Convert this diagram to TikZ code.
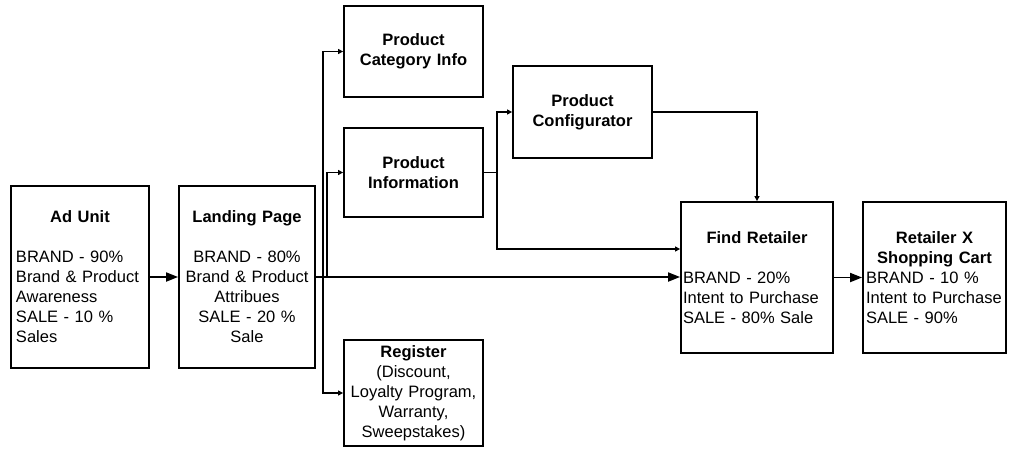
\documentclass[tikz,border=0pt]{standalone}
\usepackage{fontspec}
\setmainfont{Liberation Sans}
\usetikzlibrary{arrows.meta}
\newcommand{\ctitle}[1]{\hspace*{\fill}\textbf{#1}\hspace*{\fill}\mbox{}}
\begin{document}
\begin{tikzpicture}[x=1pt,y=-1pt,
  box/.style={draw, line width=1.8pt, inner sep=0pt, font=\fontsize{16.5}{20}\selectfont},
  conn/.style={line width=1.8pt},
  big/.style={conn, -{Triangle[length=12pt,width=9pt]}},
  small/.style={conn, -{Triangle[length=5pt,width=5pt]}}
]
\useasboundingbox (0,0) rectangle (1010,448);

\node[box, minimum width=138pt, minimum height=182pt, text width=128pt, align=left] (ad) at (80,277)
  {\ctitle{Ad Unit}\\[20pt]BRAND - 90\%\\Brand \& Product\\Awareness\\SALE - 10 \%\\Sales};
\node[box, minimum width=136pt, minimum height=182pt, text width=130pt, align=center] (lp) at (247,277)
  {\textbf{Landing Page}\\[20pt]BRAND - 80\%\\Brand \& Product\\Attribues\\SALE - 20 \%\\Sale};
\node[box, minimum width=139pt, minimum height=91pt, text width=133pt, align=center] (cat) at (413.5,51.5)
  {\textbf{Product}\\\textbf{Category Info}};
\node[box, minimum width=139pt, minimum height=89pt, text width=133pt, align=center] (info) at (413.5,172.5)
  {\textbf{Product}\\\textbf{Information}};
\node[box, minimum width=139pt, minimum height=106pt, text width=137pt, align=center] (reg) at (413.5,393)
  {\textbf{Register}\\(Discount,\\Loyalty Program,\\Warranty,\\Sweepstakes)};
\node[box, minimum width=139pt, minimum height=92pt, text width=133pt, align=center] (conf) at (582.5,112)
  {\textbf{Product}\\\textbf{Configurator}};
\node[box, minimum width=152pt, minimum height=151pt, text width=148pt, align=left] (find) at (757,277.5)
  {\ctitle{Find Retailer}\\[20pt]BRAND - 20\%\\Intent to Purchase\\SALE - 80\% Sale};
\node[box, minimum width=143pt, minimum height=151pt, text width=137pt, align=left] (cart) at (934.5,277.5)
  {\ctitle{Retailer X}\\\ctitle{Shopping Cart}\\BRAND - 10 \%\\Intent to Purchase\\SALE - 90\%};

\coordinate (j1) at (323,277);
\coordinate (j2) at (327,277);
\coordinate (j3) at (497,172.5);

\draw[big] (ad.east) -- (lp.west);
\draw[big] (lp.east) -- (lp.east -| find.west);
\draw[small] (j1) |- (cat.west);
\draw[small] (j1) |- (reg.west);
\draw[small] (j2) |- (info.west);
\draw[conn] (info.east) -- (j3);
\draw[small] (j3) |- (conf.west);
\draw[small] (j3) |- ([yshift=28.5pt]find.west);
\draw[small] (conf.east) -| (find.north);
\draw[big] (find.east) -- (cart.west);
\end{tikzpicture}
\end{document}
